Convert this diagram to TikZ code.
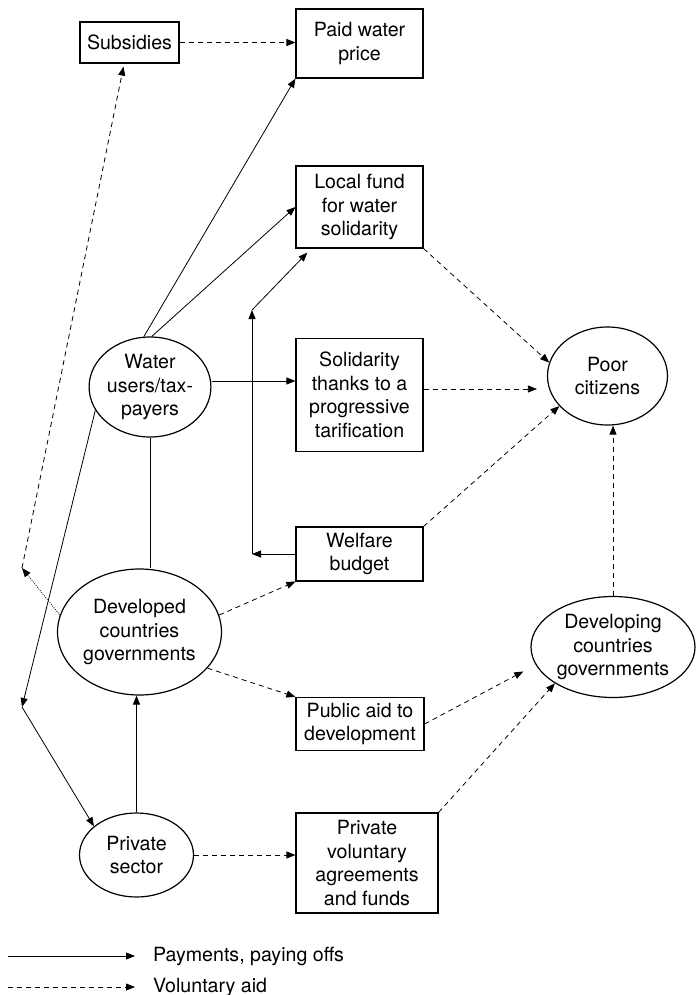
\documentclass[tikz,border=0pt]{standalone}
\usepackage{fontspec}
\setmainfont{TeX Gyre Heros}
\usetikzlibrary{arrows.meta,shapes.geometric,calc}
\begin{document}
\begin{tikzpicture}[x=1pt,y=-1pt,
  every node/.style={font=\fontsize{19.6}{23.5}\selectfont, align=center, inner sep=0pt},
  boxnode/.style={draw, line width=1.2pt, rectangle},
  ellnode/.style={draw, line width=1.2pt, ellipse},
  tip/.style={-{Triangle[length=9pt,width=7pt]}},
  pay/.style={tip, line width=0.8pt},
  aid/.style={tip, line width=0.8pt, dash pattern=on 5pt off 4pt},
  dotaid/.style={tip, line width=0.7pt, dash pattern=on 1pt off 1.2pt},
  plain/.style={line width=0.8pt}]
\useasboundingbox (0,0) rectangle (696,995);
% boxes
\node[boxnode, minimum width=99pt, minimum height=41pt] (subs) at (129.5,42.5) {Subsidies};
\node[boxnode, minimum width=127pt, minimum height=69pt] (paid) at (359.5,43.5) {Paid water\\price};
\node[boxnode, minimum width=127pt, minimum height=82pt] (local) at (359.5,207) {Local fund\\for water\\solidarity};
\node[boxnode, minimum width=127pt, minimum height=113pt] (solid) at (359.5,395) {Solidarity\\thanks to a\\progressive\\tarification};
\node[boxnode, minimum width=127pt, minimum height=54pt] (welfare) at (359.5,554) {Welfare\\budget};
\node[boxnode, minimum width=128pt, minimum height=53pt] (public) at (360,724) {Public aid to\\development};
\node[boxnode, minimum width=142pt, minimum height=100pt] (privvol) at (367,863) {Private\\voluntary\\agreements\\and funds};
% ellipses
\node[ellnode, minimum width=114pt, minimum height=100pt] (water) at (150,387) {Water\\users/tax-\\payers};
\node[ellnode, minimum width=164pt, minimum height=126pt] (developed) at (139.5,632) {Developed\\countries\\governments};
\node[ellnode, minimum width=114pt, minimum height=84pt] (private) at (136.5,855) {Private\\sector};
\node[ellnode, minimum width=120pt, minimum height=98pt] (poor) at (607.5,376) {Poor\\citizens};
\node[ellnode, minimum width=164pt, minimum height=101pt] (developing) at (613,647) {Developing\\countries\\governments};
% corner coordinates
\coordinate (c1) at (22,568);
\coordinate (c2) at (22,707);
\coordinate (c3) at (252,554);
\coordinate (c4) at (252,310);
% connectors
\draw[aid] (subs) -- (subs -| paid.west);
\draw[dotaid] (developed.168) -- (c1);
\draw[aid] (c1) -- ([xshift=-6pt,yshift=-3pt]subs.south);
\draw[pay] (water.97) -- (paid.south west);
\draw[pay] (water.88) -- (local.west);
\draw[pay] ([yshift=6pt]water.east) -- ([yshift=6pt]water.east -| solid.west);
\draw[pay] (water.203) -- (c2);
\draw[pay] (c2) -- (private.146);
\draw[plain] (water.south) -- (water.south |- developed.north);
\draw[pay] (private.north) -- (private.north |- developed.south);
\draw[pay] (welfare.west) -- (c3);
\draw[pay] (c3) -- (c4);
\draw[pay] (c4) -- ([xshift=12pt,yshift=-4pt]local.south west);
\draw[aid] (developed.12) -- (welfare.south west);
\draw[aid] (developed.-28) -- (public.north west);
\draw[aid] (private.east) -- (private.east -| privvol.west);
\draw[aid] (local.south east) -- (poor.167);
\draw[aid, shorten >=10pt] ([yshift=6pt]solid.east) -- ([yshift=6pt]solid.east -| poor.west);
\draw[aid] (welfare.north east) -- (poor.212);
\draw[aid] (developing.north) -- (developing.north |- poor.south);
\draw[aid, shorten >=14pt] (public.east) -- (developing.193);
\draw[aid] (privvol.north east) -- (developing.212);
% legend
\coordinate (l1a) at (8,956);
\coordinate (l1b) at (135,956);
\coordinate (l2a) at (8,987);
\coordinate (l2b) at (135,987);
\draw[pay] (l1a) -- (l1b);
\draw[aid] (l2a) -- (l2b);
\node[anchor=west] (l1t) at (153,956) {Payments, paying offs};
\node[anchor=west] (l2t) at (153,987) {Voluntary aid};
\end{tikzpicture}
\end{document}
